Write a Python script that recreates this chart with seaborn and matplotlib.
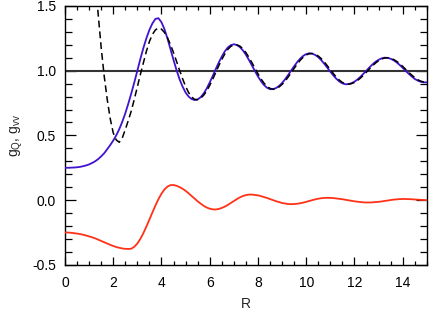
import numpy as np
import pandas as pd
import matplotlib
matplotlib.use("Agg")
import matplotlib.pyplot as plt
import seaborn as sns
from matplotlib.ticker import MultipleLocator, FormatStrFormatter

R = [0.0, 0.125, 0.25, 0.375, 0.5, 0.625, 0.75, 0.875,
     1.0, 1.125, 1.25, 1.375, 1.5, 1.625, 1.75, 1.875,
     2.0, 2.125, 2.25, 2.375, 2.5, 2.625, 2.75, 2.875,
     3.0, 3.125, 3.25, 3.375, 3.5, 3.625, 3.75, 3.875,
     4.0, 4.125, 4.25, 4.375, 4.5, 4.625, 4.75, 4.875,
     5.0, 5.125, 5.25, 5.375, 5.5, 5.625, 5.75, 5.875,
     6.0, 6.125, 6.25, 6.375, 6.5, 6.625, 6.75, 6.875,
     7.0, 7.125, 7.25, 7.375, 7.5, 7.625, 7.75, 7.875,
     8.0, 8.125, 8.25, 8.375, 8.5, 8.625, 8.75, 8.875,
     9.0, 9.125, 9.25, 9.375, 9.5, 9.625, 9.75, 9.875,
     10.0, 10.125, 10.25, 10.375, 10.5, 10.625, 10.75, 10.875,
     11.0, 11.125, 11.25, 11.375, 11.5, 11.625, 11.75, 11.875,
     12.0, 12.125, 12.25, 12.375, 12.5, 12.625, 12.75, 12.875,
     13.0, 13.125, 13.25, 13.375, 13.5, 13.625, 13.75, 13.875,
     14.0, 14.125, 14.25, 14.375, 14.5, 14.625, 14.75, 14.875,
     15.0]

g_Q = [0.250, 0.250, 0.251, 0.252, 0.254, 0.257, 0.262, 0.268,
       0.276, 0.287, 0.300, 0.317, 0.338, 0.362, 0.393, 0.425,
       0.460, 0.500, 0.548, 0.605, 0.670, 0.745, 0.825, 0.910,
       1.000, 1.090, 1.175, 1.250, 1.315, 1.365, 1.400, 1.405,
       1.374, 1.320, 1.248, 1.165, 1.083, 1.004, 0.934, 0.877,
       0.831, 0.800, 0.781, 0.773, 0.778, 0.795, 0.824, 0.862,
       0.909, 0.959, 1.012, 1.063, 1.109, 1.149, 1.179, 1.197,
       1.204, 1.198, 1.182, 1.157, 1.123, 1.083, 1.040, 0.997,
       0.955, 0.919, 0.889, 0.868, 0.857, 0.857, 0.866, 0.882,
       0.905, 0.934, 0.966, 1.001, 1.034, 1.066, 1.093, 1.114,
       1.128, 1.134, 1.131, 1.121, 1.104, 1.081, 1.053, 1.023,
       0.992, 0.963, 0.937, 0.916, 0.902, 0.895, 0.896, 0.903,
       0.915, 0.932, 0.953, 0.977, 1.001, 1.026, 1.049, 1.069,
       1.084, 1.095, 1.100, 1.099, 1.092, 1.080, 1.064, 1.044,
       1.022, 0.998, 0.976, 0.955, 0.936, 0.923, 0.914, 0.910,
       0.910]

# g_vv starts at R = 1.25 (it comes down from above the plot top)
g_vv = [1.720, 1.440, 1.180, 0.960, 0.780, 0.630,
        0.520, 0.465, 0.447, 0.480, 0.545, 0.615, 0.690, 0.780,
        0.875, 0.970, 1.060, 1.150, 1.225, 1.280, 1.315, 1.330,
        1.321, 1.295, 1.254, 1.201, 1.139, 1.072, 1.003, 0.938,
        0.879, 0.831, 0.797, 0.778, 0.776, 0.787, 0.810, 0.843,
        0.886, 0.934, 0.986, 1.038, 1.086, 1.129, 1.164, 1.188,
        1.198, 1.199, 1.190, 1.170, 1.140, 1.103, 1.062, 1.019,
        0.976, 0.937, 0.904, 0.879, 0.863, 0.857, 0.862, 0.874,
        0.894, 0.920, 0.950, 0.984, 1.018, 1.050, 1.080, 1.104,
        1.121, 1.131, 1.133, 1.126, 1.113, 1.093, 1.067, 1.038,
        1.008, 0.978, 0.950, 0.927, 0.909, 0.899, 0.896, 0.900,
        0.909, 0.924, 0.943, 0.965, 0.989, 1.014, 1.038, 1.059,
        1.077, 1.090, 1.098, 1.100, 1.096, 1.086, 1.072, 1.054,
        1.033, 1.010, 0.987, 0.966, 0.946, 0.930, 0.919, 0.912,
        0.910]
R_vv = R[len(R) - len(g_vv):]

g_red = [-0.250, -0.250, -0.252, -0.255, -0.258, -0.262, -0.267, -0.273,
         -0.280, -0.287, -0.295, -0.305, -0.315, -0.325, -0.335, -0.345,
         -0.354, -0.362, -0.368, -0.373, -0.376, -0.377, -0.375, -0.360,
         -0.335, -0.299, -0.255, -0.204, -0.150, -0.095, -0.041, 0.008,
         0.050, 0.083, 0.105, 0.116, 0.117, 0.111, 0.101, 0.088,
         0.072, 0.053, 0.032, 0.012, -0.009, -0.027, -0.044, -0.057,
         -0.066, -0.071, -0.072, -0.068, -0.060, -0.050, -0.037, -0.022,
         -0.007, 0.008, 0.021, 0.032, 0.039, 0.043, 0.043, 0.040,
         0.037, 0.031, 0.024, 0.017, 0.008, 0.000, -0.008, -0.015,
         -0.022, -0.026, -0.030, -0.031, -0.030, -0.028, -0.024, -0.019,
         -0.013, -0.0065, 0.000, 0.006, 0.011, 0.015, 0.017, 0.018,
         0.017, 0.016, 0.013, 0.010, 0.007, 0.003, -0.001, -0.005,
         -0.009, -0.012, -0.015, -0.017, -0.018, -0.018, -0.017, -0.015,
         -0.013, -0.010, -0.006, -0.003, 0.001, 0.004, 0.006, 0.008,
         0.009, 0.009, 0.008, 0.007, 0.005, 0.004, 0.002, 0.001,
         0.000]

ref_level = 1.0
x_label = "R"
y_label = "g$_Q$, g$_{vv}$"

# ---- style ----
sns.set_theme(style="ticks")
plt.rcParams["font.family"] = ["Liberation Sans", "DejaVu Sans"]
plt.rcParams["mathtext.fontset"] = "custom"
plt.rcParams["mathtext.rm"] = "Liberation Sans"
plt.rcParams["mathtext.it"] = "Liberation Sans"
plt.rcParams["mathtext.default"] = "regular"

fig = plt.figure(figsize=(4.36, 3.12), dpi=100)
ax = fig.add_axes([0.149, 0.151, 0.830, 0.830])

ax.axhline(ref_level, color="#333333", lw=1.5, zorder=1)

sns.lineplot(x=R, y=g_Q, ax=ax, color="#4212d0", lw=1.3, zorder=3)
sns.lineplot(x=R_vv, y=g_vv, ax=ax, color="black", lw=1.1,
             linestyle=(0, (4.5, 2.6)), zorder=4)
sns.lineplot(x=R, y=g_red, ax=ax, color="#ff3218", lw=1.3, zorder=3)

ax.set_xlim(0, 15)
ax.set_ylim(-0.5, 1.5)
ax.xaxis.set_major_locator(MultipleLocator(2))
ax.xaxis.set_minor_locator(MultipleLocator(0.5))
ax.yaxis.set_major_locator(MultipleLocator(0.5))
ax.yaxis.set_minor_locator(MultipleLocator(0.1))
ax.yaxis.set_major_formatter(FormatStrFormatter("%.1f"))

ax.tick_params(axis="both", which="both", direction="in", top=True,
               right=True, colors="black", labelsize=10, width=0.9)
ax.tick_params(axis="x", which="major", length=5.5, pad=8)
ax.tick_params(axis="x", which="minor", length=2.9)
ax.tick_params(axis="y", which="major", length=8, pad=6.5)
ax.tick_params(axis="y", which="minor", length=4.8)
for s in ax.spines.values():
    s.set_color("black")
    s.set_linewidth(1.0)

ax.set_xlabel(x_label, fontsize=10, labelpad=5)
ax.set_ylabel(y_label, fontsize=10, labelpad=5)

fig.savefig("out.png", dpi=100)
